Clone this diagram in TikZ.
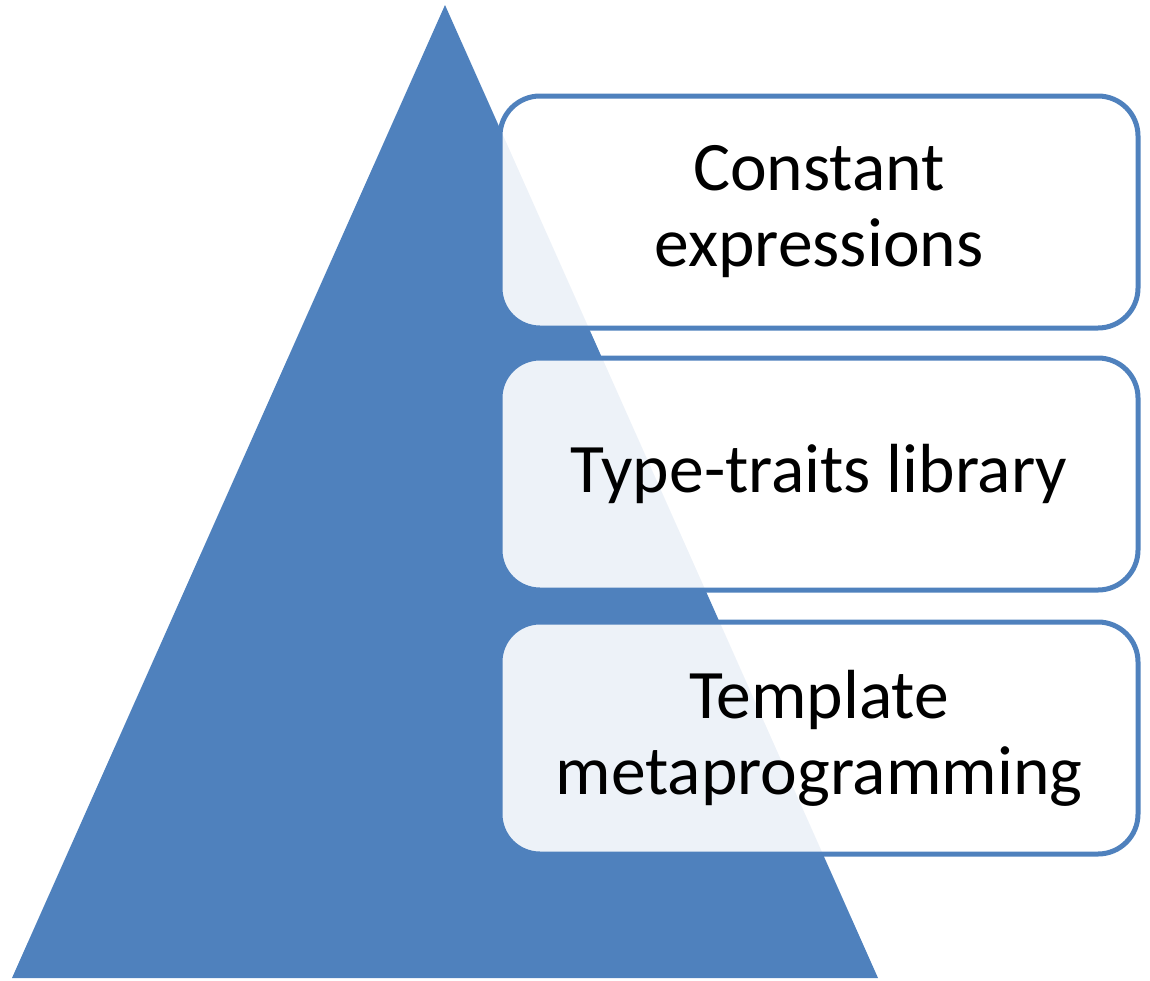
\documentclass[tikz,border=0pt]{standalone}
\usepackage{fontspec}
\setmainfont{Carlito}
\definecolor{accent}{HTML}{4F81BD}
\begin{document}
\begin{tikzpicture}[x=1pt,y=-1pt,
  layer/.style={draw=accent, line width=5pt, fill=white, fill opacity=0.9,
    text opacity=1, rounded corners=40pt, minimum width=638pt, minimum height=232pt,
    inner sep=0pt, align=center, font=\fontsize{69.5}{76}\selectfont},
]
\useasboundingbox (0,0) rectangle (1150,980);
% background pyramid
\fill[accent] (445,5) -- (878,978) -- (12,978) -- cycle;
% stacked labels
\node[layer] (top) at (819,212) {Constant\\expressions};
\node[layer] (mid) at (819,474) {Type-traits library};
\node[layer] (bot) at (819,738) {Template\\metaprogramming};
\end{tikzpicture}
\end{document}
